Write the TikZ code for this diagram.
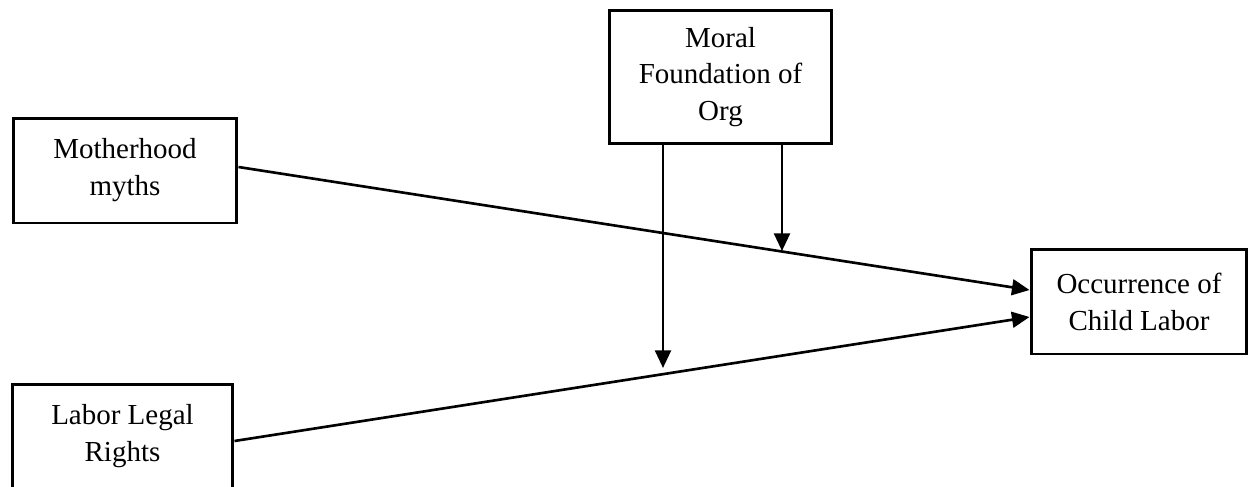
\documentclass[tikz,border=0pt]{standalone}
\usepackage{fontspec}
\setmainfont{Liberation Serif}
\usepackage{tikz}
\usetikzlibrary{arrows.meta}

\begin{document}
\begin{tikzpicture}[x=0.02cm,y=-0.02cm,
  varbox/.style={draw,line width=1.7pt,align=center,inner sep=0pt,
    font=\fontsize{16.5}{21}\selectfont},
  path/.style={line width=1.5pt,-{Triangle[length=10pt,width=9pt]}}]
\clip (0,0) rectangle (1248,487);
\node[varbox,minimum width=4.48cm,minimum height=2.1cm] (moth) at (125,170.5) {Motherhood\\myths};
\node[varbox,minimum width=4.42cm,minimum height=2.1cm] (legal) at (122.5,436.5) {Labor Legal\\Rights};
\node[varbox,minimum width=4.46cm,minimum height=2.68cm] (moral) at (720.5,77) {Moral\\Foundation of\\Org};
\node[varbox,minimum width=4.32cm,minimum height=2.1cm] (occ) at (1139,301.5) {Occurrence of\\Child Labor};
\coordinate (m1) at (663,368);
\coordinate (m2) at (782,251);
\draw[path] ([yshift=0.07cm]moth.east) -- ([yshift=0.23cm]occ.west);
\draw[path] ([yshift=-0.09cm]legal.east) -- ([yshift=-0.31cm]occ.west);
\draw[path] (moral.south -| m1) -- (m1);
\draw[path] (moral.south -| m2) -- (m2);
\end{tikzpicture}
\end{document}
